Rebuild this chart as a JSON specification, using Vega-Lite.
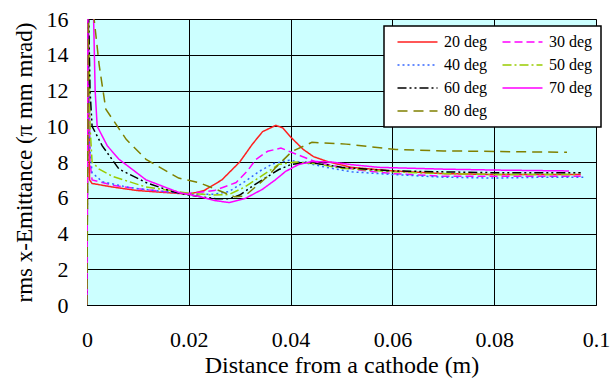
{
  "$schema": "https://vega.github.io/schema/vega-lite/v6.json",
  "width": 509,
  "height": 286,
  "autosize": {"type": "none"},
  "padding": {"left": 87, "top": 19, "right": 14, "bottom": 77},
  "background": "white",
  "config": {
    "view": {"fill": "#ccffff", "stroke": "#808080", "strokeWidth": 1},
    "font": "Liberation Serif",
    "axis": {
      "labelFont": "Liberation Serif",
      "titleFont": "Liberation Serif",
      "labelColor": "#000",
      "titleColor": "#000",
      "titleFontWeight": "normal",
      "gridColor": "#000",
      "gridOpacity": 1,
      "gridWidth": 1,
      "domainColor": "#000",
      "ticks": false,
      "tickSize": 0
    },
    "legend": {
      "title": null,
      "orient": "none",
      "legendX": 297,
      "legendY": 7,
      "columns": 2,
      "direction": "horizontal",
      "fillColor": "white",
      "strokeColor": "#000",
      "strokeWidth": 1.5,
      "padding": 8,
      "symbolType": "M-1,0H15",
      "symbolSize": 25,
      "symbolStrokeWidth": 1.5,
      "labelFont": "Liberation Serif",
      "labelFontSize": 16,
      "labelColor": "#000",
      "labelOffset": 36,
      "rowPadding": 7,
      "columnPadding": 9,
      "gridAlign": "all"
    }
  },
  "datasets": {
    "curves": [
      {"s": "20 deg", "x": 0, "y": 0}, {"s": "20 deg", "x": 0.0002, "y": 18}, {"s": "20 deg", "x": 0.0005, "y": 7.0}, {"s": "20 deg", "x": 0.001, "y": 6.8}, {"s": "20 deg", "x": 0.005, "y": 6.6}, {"s": "20 deg", "x": 0.01, "y": 6.4}, {"s": "20 deg", "x": 0.015, "y": 6.3}, {"s": "20 deg", "x": 0.02, "y": 6.2}, {"s": "20 deg", "x": 0.023, "y": 6.4}, {"s": "20 deg", "x": 0.0265, "y": 7.0}, {"s": "20 deg", "x": 0.03, "y": 8.0}, {"s": "20 deg", "x": 0.0325, "y": 9.0}, {"s": "20 deg", "x": 0.0345, "y": 9.7}, {"s": "20 deg", "x": 0.0371, "y": 10.05}, {"s": "20 deg", "x": 0.0385, "y": 9.9}, {"s": "20 deg", "x": 0.04, "y": 9.4}, {"s": "20 deg", "x": 0.0425, "y": 8.7}, {"s": "20 deg", "x": 0.0445, "y": 8.3}, {"s": "20 deg", "x": 0.0475, "y": 8.0}, {"s": "20 deg", "x": 0.052, "y": 7.7}, {"s": "20 deg", "x": 0.06, "y": 7.5}, {"s": "20 deg", "x": 0.07, "y": 7.35}, {"s": "20 deg", "x": 0.08, "y": 7.3}, {"s": "20 deg", "x": 0.09, "y": 7.3}, {"s": "20 deg", "x": 0.097, "y": 7.3},
      {"s": "30 deg", "x": 0, "y": 0}, {"s": "30 deg", "x": 0.0002, "y": 18}, {"s": "30 deg", "x": 0.0006, "y": 8}, {"s": "30 deg", "x": 0.001, "y": 7.0}, {"s": "30 deg", "x": 0.005, "y": 6.7}, {"s": "30 deg", "x": 0.01, "y": 6.5}, {"s": "30 deg", "x": 0.015, "y": 6.35}, {"s": "30 deg", "x": 0.02, "y": 6.25}, {"s": "30 deg", "x": 0.025, "y": 6.4}, {"s": "30 deg", "x": 0.0293, "y": 6.85}, {"s": "30 deg", "x": 0.0315, "y": 7.5}, {"s": "30 deg", "x": 0.0332, "y": 8.15}, {"s": "30 deg", "x": 0.0355, "y": 8.6}, {"s": "30 deg", "x": 0.0381, "y": 8.78}, {"s": "30 deg", "x": 0.041, "y": 8.45}, {"s": "30 deg", "x": 0.045, "y": 8.0}, {"s": "30 deg", "x": 0.05, "y": 7.7}, {"s": "30 deg", "x": 0.055, "y": 7.5}, {"s": "30 deg", "x": 0.06, "y": 7.35}, {"s": "30 deg", "x": 0.07, "y": 7.2}, {"s": "30 deg", "x": 0.08, "y": 7.2}, {"s": "30 deg", "x": 0.09, "y": 7.2}, {"s": "30 deg", "x": 0.097, "y": 7.2},
      {"s": "40 deg", "x": 0, "y": 0}, {"s": "40 deg", "x": 0.0002, "y": 18}, {"s": "40 deg", "x": 0.0005, "y": 9}, {"s": "40 deg", "x": 0.001, "y": 7.4}, {"s": "40 deg", "x": 0.003, "y": 6.9}, {"s": "40 deg", "x": 0.0083, "y": 6.57}, {"s": "40 deg", "x": 0.015, "y": 6.35}, {"s": "40 deg", "x": 0.02, "y": 6.2}, {"s": "40 deg", "x": 0.025, "y": 6.2}, {"s": "40 deg", "x": 0.0279, "y": 6.35}, {"s": "40 deg", "x": 0.031, "y": 6.9}, {"s": "40 deg", "x": 0.0338, "y": 7.47}, {"s": "40 deg", "x": 0.0365, "y": 7.9}, {"s": "40 deg", "x": 0.0397, "y": 8.1}, {"s": "40 deg", "x": 0.043, "y": 7.95}, {"s": "40 deg", "x": 0.047, "y": 7.7}, {"s": "40 deg", "x": 0.052, "y": 7.45}, {"s": "40 deg", "x": 0.06, "y": 7.3}, {"s": "40 deg", "x": 0.07, "y": 7.15}, {"s": "40 deg", "x": 0.08, "y": 7.1}, {"s": "40 deg", "x": 0.09, "y": 7.15}, {"s": "40 deg", "x": 0.0975, "y": 7.15},
      {"s": "50 deg", "x": 0, "y": 0}, {"s": "50 deg", "x": 0.0002, "y": 18}, {"s": "50 deg", "x": 0.0006, "y": 10}, {"s": "50 deg", "x": 0.001, "y": 8.0}, {"s": "50 deg", "x": 0.0024, "y": 7.6}, {"s": "50 deg", "x": 0.005, "y": 7.2}, {"s": "50 deg", "x": 0.0116, "y": 6.6}, {"s": "50 deg", "x": 0.02, "y": 6.25}, {"s": "50 deg", "x": 0.025, "y": 6.15}, {"s": "50 deg", "x": 0.0279, "y": 6.18}, {"s": "50 deg", "x": 0.031, "y": 6.6}, {"s": "50 deg", "x": 0.0338, "y": 7.13}, {"s": "50 deg", "x": 0.0377, "y": 7.87}, {"s": "50 deg", "x": 0.041, "y": 8.0}, {"s": "50 deg", "x": 0.045, "y": 7.9}, {"s": "50 deg", "x": 0.05, "y": 7.65}, {"s": "50 deg", "x": 0.06, "y": 7.45}, {"s": "50 deg", "x": 0.07, "y": 7.35}, {"s": "50 deg", "x": 0.08, "y": 7.3}, {"s": "50 deg", "x": 0.09, "y": 7.3}, {"s": "50 deg", "x": 0.096, "y": 7.3},
      {"s": "60 deg", "x": 0, "y": 0}, {"s": "60 deg", "x": 0.0002, "y": 18}, {"s": "60 deg", "x": 0.0006, "y": 12}, {"s": "60 deg", "x": 0.001, "y": 10}, {"s": "60 deg", "x": 0.003, "y": 8.9}, {"s": "60 deg", "x": 0.0063, "y": 7.6}, {"s": "60 deg", "x": 0.0116, "y": 6.85}, {"s": "60 deg", "x": 0.0167, "y": 6.35}, {"s": "60 deg", "x": 0.02, "y": 6.15}, {"s": "60 deg", "x": 0.0253, "y": 5.95}, {"s": "60 deg", "x": 0.028, "y": 5.95}, {"s": "60 deg", "x": 0.03, "y": 6.15}, {"s": "60 deg", "x": 0.0324, "y": 6.63}, {"s": "60 deg", "x": 0.035, "y": 7.1}, {"s": "60 deg", "x": 0.0377, "y": 7.58}, {"s": "60 deg", "x": 0.04, "y": 7.85}, {"s": "60 deg", "x": 0.043, "y": 7.98}, {"s": "60 deg", "x": 0.047, "y": 7.85}, {"s": "60 deg", "x": 0.05, "y": 7.7}, {"s": "60 deg", "x": 0.06, "y": 7.5}, {"s": "60 deg", "x": 0.07, "y": 7.45}, {"s": "60 deg", "x": 0.08, "y": 7.4}, {"s": "60 deg", "x": 0.09, "y": 7.4}, {"s": "60 deg", "x": 0.097, "y": 7.4},
      {"s": "70 deg", "x": 0, "y": 0}, {"s": "70 deg", "x": 0.0002, "y": 18}, {"s": "70 deg", "x": 0.0013, "y": 16}, {"s": "70 deg", "x": 0.0016, "y": 12}, {"s": "70 deg", "x": 0.002, "y": 10}, {"s": "70 deg", "x": 0.004, "y": 8.9}, {"s": "70 deg", "x": 0.0063, "y": 8.15}, {"s": "70 deg", "x": 0.0116, "y": 7.0}, {"s": "70 deg", "x": 0.018, "y": 6.3}, {"s": "70 deg", "x": 0.022, "y": 6.07}, {"s": "70 deg", "x": 0.025, "y": 5.85}, {"s": "70 deg", "x": 0.0279, "y": 5.73}, {"s": "70 deg", "x": 0.031, "y": 5.95}, {"s": "70 deg", "x": 0.0344, "y": 6.46}, {"s": "70 deg", "x": 0.037, "y": 7.0}, {"s": "70 deg", "x": 0.039, "y": 7.47}, {"s": "70 deg", "x": 0.0415, "y": 7.85}, {"s": "70 deg", "x": 0.0442, "y": 8.03}, {"s": "70 deg", "x": 0.048, "y": 8.0}, {"s": "70 deg", "x": 0.052, "y": 7.85}, {"s": "70 deg", "x": 0.0574, "y": 7.7}, {"s": "70 deg", "x": 0.07, "y": 7.6}, {"s": "70 deg", "x": 0.08, "y": 7.55}, {"s": "70 deg", "x": 0.0947, "y": 7.5},
      {"s": "80 deg", "x": 0, "y": 0}, {"s": "80 deg", "x": 0.0003, "y": 18}, {"s": "80 deg", "x": 0.0014, "y": 16}, {"s": "80 deg", "x": 0.0024, "y": 13.4}, {"s": "80 deg", "x": 0.0037, "y": 10.95}, {"s": "80 deg", "x": 0.0077, "y": 9.27}, {"s": "80 deg", "x": 0.0116, "y": 8.15}, {"s": "80 deg", "x": 0.018, "y": 7.1}, {"s": "80 deg", "x": 0.022, "y": 6.85}, {"s": "80 deg", "x": 0.0255, "y": 6.45}, {"s": "80 deg", "x": 0.029, "y": 6.05}, {"s": "80 deg", "x": 0.031, "y": 6.1}, {"s": "80 deg", "x": 0.0332, "y": 6.63}, {"s": "80 deg", "x": 0.0355, "y": 7.2}, {"s": "80 deg", "x": 0.0371, "y": 7.7}, {"s": "80 deg", "x": 0.0403, "y": 8.6}, {"s": "80 deg", "x": 0.0442, "y": 9.1}, {"s": "80 deg", "x": 0.0509, "y": 9.0}, {"s": "80 deg", "x": 0.0607, "y": 8.7}, {"s": "80 deg", "x": 0.07, "y": 8.62}, {"s": "80 deg", "x": 0.077, "y": 8.6}, {"s": "80 deg", "x": 0.0943, "y": 8.54}
    ]
  },
  "data": {"name": "curves"},
  "mark": {"type": "line", "clip": true, "strokeWidth": 1.5},
  "encoding": {
    "x": {
      "field": "x", "type": "quantitative",
      "scale": {"domain": [0, 0.1], "nice": false, "zero": false},
      "axis": {
        "values": [0, 0.02, 0.04, 0.06, 0.08, 0.1],
        "format": "~g",
        "labelFontSize": 22,
        "labelPadding": 24,
        "title": "Distance from a cathode (m)",
        "titleFontSize": 24,
        "titlePadding": 3,
        "labelFlush": false,
        "labelOverlap": false
      }
    },
    "y": {
      "field": "y", "type": "quantitative",
      "scale": {"domain": [0, 16], "nice": false},
      "axis": {
        "values": [0, 2, 4, 6, 8, 10, 12, 14, 16],
        "labelFontSize": 22,
        "labelPadding": 19,
        "labelFlush": false,
        "labelOverlap": false,
        "title": "rms x-Emittance (π mm mrad)",
        "titleFontSize": 23,
        "titlePadding": 10
      }
    },
    "color": {
      "field": "s", "type": "nominal",
      "scale": {
        "domain": ["20 deg", "30 deg", "40 deg", "50 deg", "60 deg", "70 deg", "80 deg"],
        "range": ["#ff2020", "#ff00ff", "#3366ff", "#99cc00", "#000000", "#ff00ff", "#808000"]
      }
    },
    "strokeDash": {
      "field": "s", "type": "nominal",
      "scale": {
        "domain": ["20 deg", "30 deg", "40 deg", "50 deg", "60 deg", "70 deg", "80 deg"],
        "range": [[1, 0], [8, 4], [2, 3], [9, 3, 2, 3], [9, 3, 2, 3, 2, 3], [1, 0], [10, 6]]
      }
    }
  }
}
